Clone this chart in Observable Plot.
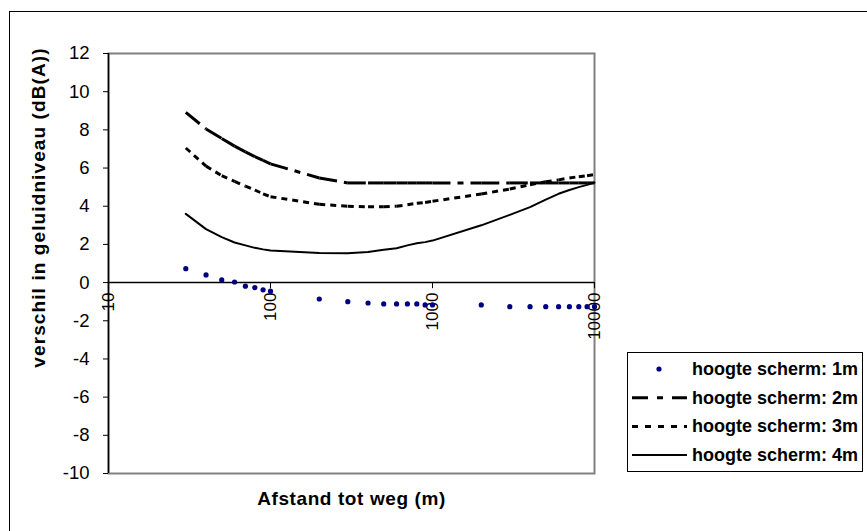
<!DOCTYPE html>
<html><head><meta charset="utf-8">
<script src="https://cdn.jsdelivr.net/npm/d3@7"></script>
<script src="https://cdn.jsdelivr.net/npm/@observablehq/plot@0.6"></script>
<style>
html,body{margin:0;padding:0;background:#fff;}
#wrap{position:relative;width:867px;height:531px;overflow:hidden;font-family:Arial,"Liberation Sans",sans-serif;}
#frame{position:absolute;left:9px;top:11px;width:900px;height:600px;border-left:1px solid #000;border-top:1px solid #000;}
#chart{position:absolute;left:0;top:0;}
#legend{position:absolute;left:627px;top:352px;}
</style></head><body>
<div id="wrap"><div id="frame"></div><div id="chart"></div><div id="legend"></div></div>
<script>
// Data
const distances = [30,40,50,60,70,80,90,100,200,300,400,500,600,700,800,900,1000,2000,3000,4000,5000,6000,7000,8000,9000,10000];
const h1m = [0.73,0.40,0.14,0.03,-0.19,-0.26,-0.38,-0.45,-0.86,-1.00,-1.07,-1.12,-1.12,-1.12,-1.12,-1.17,-1.17,-1.17,-1.26,-1.26,-1.26,-1.26,-1.26,-1.26,-1.26,-1.26];
const h2m = [8.92,8.05,7.55,7.15,6.85,6.60,6.40,6.22,5.48,5.22,5.22,5.22,5.22,5.22,5.22,5.22,5.22,5.22,5.22,5.22,5.22,5.22,5.22,5.22,5.22,5.22];
const h3m = [7.05,6.10,5.60,5.30,5.05,4.85,4.65,4.50,4.10,4.00,3.97,3.97,4.00,4.08,4.15,4.20,4.26,4.64,4.90,5.13,5.28,5.38,5.48,5.55,5.60,5.66];
const h4m = [3.60,2.80,2.38,2.10,1.95,1.82,1.74,1.68,1.55,1.54,1.60,1.72,1.80,1.95,2.06,2.12,2.20,3.00,3.55,3.95,4.35,4.65,4.85,5.00,5.12,5.24];
const seriesNames = ["hoogte scherm: 1m","hoogte scherm: 2m","hoogte scherm: 3m","hoogte scherm: 4m"];
const yTicks = [-10,-8,-6,-4,-2,0,2,4,6,8,10,12];
const xTicks = [10,100,1000,10000];
const yTitle = "verschil in geluidniveau (dB(A))";
const xTitle = "Afstand tot weg (m)";

const pts = ys => distances.map((d,i)=>({x:d, y:ys[i]}));
const segs = ys => distances.slice(1).map((d,i)=>({x1:distances[i], y1:ys[i], x2:d, y2:ys[i+1]}));
const FONT = "Arial, 'Liberation Sans', sans-serif";

const chart = Plot.plot({
  width: 867, height: 531,
  marginLeft: 108, marginRight: 273, marginTop: 53, marginBottom: 58,
  style: {fontFamily: FONT, background: "transparent", color: "#000", overflow: "visible"},
  x: {type: "log", domain: [10, 10000], axis: null},
  y: {domain: [-10, 12]},
  marks: [
    Plot.frame({stroke: "#808080", strokeWidth: 2}),
    Plot.axisY({ticks: yTicks, tickSize: 5, tickPadding: 14, fontSize: 18.5, label: null, stroke: "#000", tickFormat: d => String(d)}),
    Plot.ruleX([10], {stroke: "#000", strokeWidth: 1.5}),
    Plot.ruleY([0], {stroke: "#000", strokeWidth: 1.5}),
    Plot.ruleX(xTicks, {x: d => d, y1: 0, y2: -0.32, stroke: "#000", strokeWidth: 1}),
    Plot.text(xTicks, {x: d => d, y: 0, text: d => String(d), rotate: -90, textAnchor: "end", lineAnchor: "middle", dy: 10, fontSize: 17, fill: "#000"}),
    Plot.line(pts(h4m), {x: "x", y: "y", stroke: "#000", strokeWidth: 2}),
    Plot.link(segs(h3m), {x1: "x1", y1: "y1", x2: "x2", y2: "y2", stroke: "#000", strokeWidth: 3, strokeDasharray: "6,5"}),
    Plot.link(segs(h2m), {x1: "x1", y1: "y1", x2: "x2", y2: "y2", stroke: "#000", strokeWidth: 3, strokeDasharray: "18,7,6,7"}),
    Plot.dot(pts(h1m), {x: "x", y: "y", r: 2.6, fill: "#000080", stroke: "none"}),
    Plot.text([yTitle], {frameAnchor: "left", dx: -70, dy: -56, rotate: -90, textAnchor: "middle", lineAnchor: "middle", fontSize: 19, fontWeight: "bold", fill: "#000"}),
    Plot.text([xTitle], {frameAnchor: "bottom", dy: 25, textAnchor: "middle", lineAnchor: "middle", fontSize: 19, fontWeight: "bold", fill: "#000"})
  ]
});
d3.select(chart).selectAll("text").filter(function(){ return this.textContent === xTitle; })
  .style("letter-spacing", "0.6px");
d3.select(chart).selectAll("text").filter(function(){ return this.textContent === yTitle; })
  .style("letter-spacing", "1.1px");
document.getElementById("chart").appendChild(chart);

// Legend
const legendStyles = [
  {type: "dot"},
  {dash: "16,9,6,9", width: 3},
  {dash: "6,7", width: 3},
  {dash: null, width: 2}
];
const lsvg = d3.select("#legend").append("svg").attr("width", 240).attr("height", 122);
lsvg.append("rect").attr("x", 0.5).attr("y", 0.5).attr("width", 235).attr("height", 119)
  .attr("fill", "#fff").attr("stroke", "#000").attr("stroke-width", 1);
seriesNames.forEach((name, i) => {
  const cy = 17 + i * 28.7;
  const st = legendStyles[i];
  if (st.type === "dot") {
    lsvg.append("circle").attr("cx", 32).attr("cy", cy).attr("r", 2.6).attr("fill", "#000080");
  } else {
    const l = lsvg.append("line").attr("x1", 5).attr("x2", 60).attr("y1", cy).attr("y2", cy)
      .attr("stroke", "#000").attr("stroke-width", st.width);
    if (st.dash) l.attr("stroke-dasharray", st.dash);
  }
  lsvg.append("text").attr("x", 65).attr("y", cy).attr("dominant-baseline", "central")
    .attr("font-family", FONT).attr("font-size", 18).attr("font-weight", "bold").text(name);
});
</script>
</body></html>
